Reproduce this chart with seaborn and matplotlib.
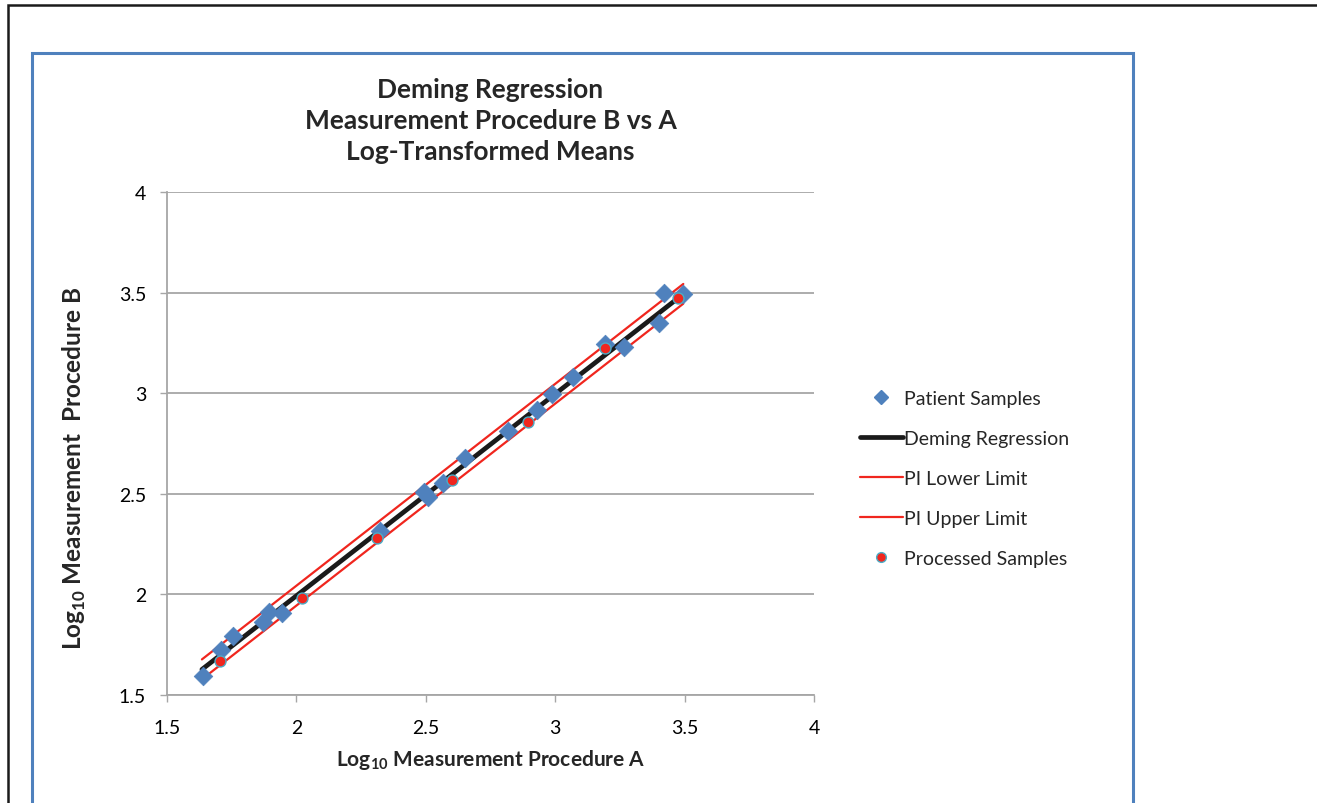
#!/usr/bin/env python3
# deming.py

import logging

import matplotlib

matplotlib.use("Agg")
logging.getLogger("matplotlib.font_manager").setLevel(logging.ERROR)

import numpy as np
import pandas as pd
import matplotlib.pyplot as plt
from matplotlib.lines import Line2D
from matplotlib.patches import Rectangle
import seaborn as sns

# values
patient_x = [1.638, 1.709, 1.756, 1.872, 1.895, 1.944, 2.323, 2.494, 2.510, 2.565,
             2.651, 2.819, 2.928, 2.989, 3.070, 3.194, 3.267, 3.401, 3.422, 3.492]
patient_y = [1.596, 1.725, 1.795, 1.861, 1.911, 1.908, 2.317, 2.507, 2.486, 2.552,
             2.676, 2.814, 2.917, 2.996, 3.079, 3.245, 3.228, 3.349, 3.498, 3.493]

processed_x = [1.705, 2.020, 2.310, 2.601, 2.894, 3.194, 3.474]
processed_y = [1.667, 1.981, 2.279, 2.569, 2.855, 3.223, 3.475]

fit_x = [1.635, 3.495]
deming_y = [1.627, 3.493]
pi_lower_y = [1.578, 3.445]
pi_upper_y = [1.677, 3.543]

x_ticks = [1.5, 2, 2.5, 3, 3.5, 4]
y_ticks = [1.5, 2, 2.5, 3, 3.5, 4]

blue = "#4F81BD"
red = "#F0261E"
teal = "#4BACC6"

sns.set_theme(style="white")
plt.rcParams["font.family"] = ["Lato", "DejaVu Sans"]
plt.rcParams["mathtext.fontset"] = "custom"
plt.rcParams["mathtext.rm"] = "Lato"
plt.rcParams["mathtext.bf"] = "Lato:bold"

fig = plt.figure(figsize=(13.17, 8.04), dpi=100)
ax = fig.add_axes([167 / 1317, 1 - 696 / 804, (814 - 167) / 1317, (696 - 193) / 804])

patients = pd.DataFrame({"x": patient_x, "y": patient_y})
processed = pd.DataFrame({"x": processed_x, "y": processed_y})
lines = pd.DataFrame({"x": fit_x, "deming": deming_y, "lower": pi_lower_y, "upper": pi_upper_y})

sns.lineplot(data=lines, x="x", y="deming", color="#1A1A1A", linewidth=3.4, ax=ax, zorder=2)
sns.lineplot(data=lines, x="x", y="lower", color=red, linewidth=1.6, ax=ax, zorder=2)
sns.lineplot(data=lines, x="x", y="upper", color=red, linewidth=1.6, ax=ax, zorder=2)
sns.scatterplot(data=patients, x="x", y="y", marker="D", s=90, color=blue,
                edgecolor=blue, linewidth=0.5, ax=ax, zorder=3)
sns.scatterplot(data=processed, x="x", y="y", marker="o", s=62, color=red,
                edgecolor=teal, linewidth=1.0, ax=ax, zorder=4)

ax.set_xlim(1.5, 4)
ax.set_ylim(1.5, 4)
ax.set_xticks(x_ticks)
ax.set_yticks(y_ticks)
ax.set_xticklabels([f"{t:g}" for t in x_ticks])
ax.set_yticklabels([f"{t:g}" for t in y_ticks])
ax.tick_params(axis="both", labelsize=14, colors="black", length=5, width=1,
               direction="out", bottom=True, left=True)
ax.tick_params(axis="x", pad=12)
ax.tick_params(axis="y", pad=10)
ax.tick_params(axis="both", color="#A6A6A6")
ax.yaxis.grid(True, color="#A6A6A6", linewidth=1.3)
ax.xaxis.grid(False)
for side in ["top", "right"]:
    ax.spines[side].set_visible(False)
for side in ["left", "bottom"]:
    ax.spines[side].set_color("#A6A6A6")
    ax.spines[side].set_linewidth(1.3)

ax.set_xlabel(r"Log$_{\mathbf{10}}$ Measurement Procedure A", fontsize=15,
              fontweight="bold", labelpad=8)
ax.set_ylabel(r"Log$_{\mathbf{10}}$ Measurement  Procedure B", fontsize=17.5,
              fontweight="bold")
ax.yaxis.set_label_coords(-0.122, 0.452)
ax.set_title("Deming Regression\nMeasurement Procedure B vs A\nLog-Transformed Means",
             fontsize=19, fontweight="bold", linespacing=1.33, pad=24)

handles = [
    Line2D([], [], marker="D", linestyle="none", color=blue, markersize=7),
    Line2D([], [], color="#1A1A1A", linewidth=3.4),
    Line2D([], [], color=red, linewidth=1.6),
    Line2D([], [], color=red, linewidth=1.6),
    Line2D([], [], marker="o", linestyle="none", markerfacecolor=red,
           markeredgecolor=teal, markersize=7),
]
labels = ["Patient Samples", "Deming Regression", "PI Lower Limit",
          "PI Upper Limit", "Processed Samples"]
fig.legend(handles, labels, loc="upper left", bbox_to_anchor=(852 / 1317, 1 - 383 / 804),
           frameon=False, fontsize=14, handlelength=2.2, handletextpad=0.1,
           labelspacing=1.18, borderaxespad=0)

# chart borders
fig.patches.append(Rectangle((8 / 1317, -0.05), 1.2, 1 - 6 / 804 + 0.05, transform=fig.transFigure,
                             fill=False, edgecolor="#1A1A1A", linewidth=1.8))
fig.patches.append(Rectangle((32 / 1317, -0.05), (1133 - 32) / 1317, 1 - 54 / 804 + 0.05,
                             transform=fig.transFigure, fill=False, edgecolor=blue, linewidth=2.2))

fig.savefig("out.png", dpi=100)
plt.close(fig)
